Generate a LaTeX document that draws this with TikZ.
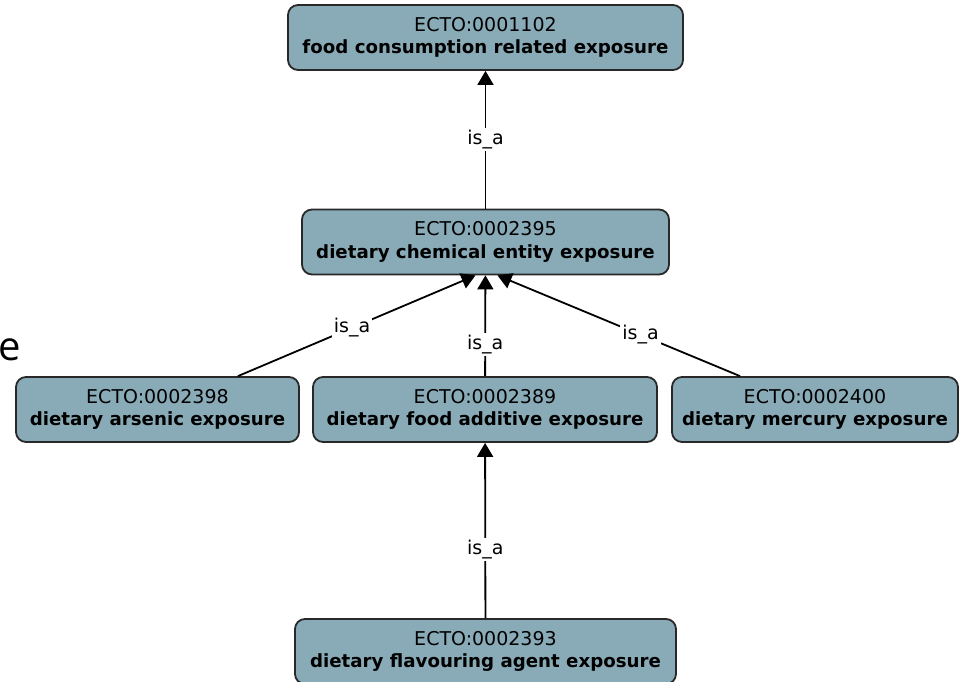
\documentclass[tikz,border=0pt]{standalone}
\usepackage{fontspec}
\setmainfont{DejaVu Sans}
\newfontfamily\lettfont{Open Sans}
\usetikzlibrary{arrows.meta}
\definecolor{termfill}{RGB}{137,171,184}
\definecolor{termline}{RGB}{40,40,40}

% term label: identifier on the first line, bold name on the second
\newcommand{\termname}[1]{{\fontsize{18.2}{22.5}\selectfont\bfseries #1}}

\tikzset{
  term/.style={draw=termline, fill=termfill, line width=1.8pt, rounded corners=10pt,
    minimum height=65pt, inner sep=0pt, align=center,
    font=\fontsize{19}{22.5}\selectfont},
  isa/.style={-{Triangle[width=16pt,length=14pt]}, line width=1.8pt, black},
  rel/.style={fill=white, inner sep=2pt, font=\fontsize{19}{22}\selectfont}
}

\begin{document}
\begin{tikzpicture}[x=1pt,y=-1pt]
\useasboundingbox (0,0) rectangle (961,682);

% ontology terms
\node[term, minimum width=395pt] (food) at (485.5,37.5)
  {ECTO:0001102\\\termname{food consumption related exposure}};
\node[term, minimum width=367pt] (chem) at (485.5,242)
  {ECTO:0002395\\\termname{dietary chemical entity exposure}};
\node[term, minimum width=283pt] (ars) at (157.5,409.5)
  {ECTO:0002398\\\termname{dietary arsenic exposure}};
\node[term, minimum width=344pt] (add) at (485,409.5)
  {ECTO:0002389\\\termname{dietary food additive exposure}};
\node[term, minimum width=286pt] (merc) at (815,409.5)
  {ECTO:0002400\\\termname{dietary mercury exposure}};
\node[term, minimum width=381pt] (flav) at (485.5,651.5)
  {ECTO:0002393\\\termname{dietary flavouring agent exposure}};

% stray letter at the left margin
\node[font=\lettfont\fontsize{40}{40}\selectfont, anchor=base west, inner sep=0pt] (stray) at (-2,360) {e};

% is_a relations
\draw[isa] (chem) -- node[rel, pos=0.5] {is\_a} (food);
\draw[isa] ([xshift=80.5pt]ars.north) -- node[rel, pos=0.48] {is\_a} ([xshift=-10pt]chem.south);
\draw[isa] (add) -- node[rel, pos=0.31] {is\_a} (chem);
\draw[isa] ([xshift=-75pt]merc.north) -- node[rel, pos=0.41] {is\_a} ([xshift=12pt]chem.south);
\draw[isa] (flav) -- node[rel, pos=0.39] {is\_a} (add);
\end{tikzpicture}
\end{document}
